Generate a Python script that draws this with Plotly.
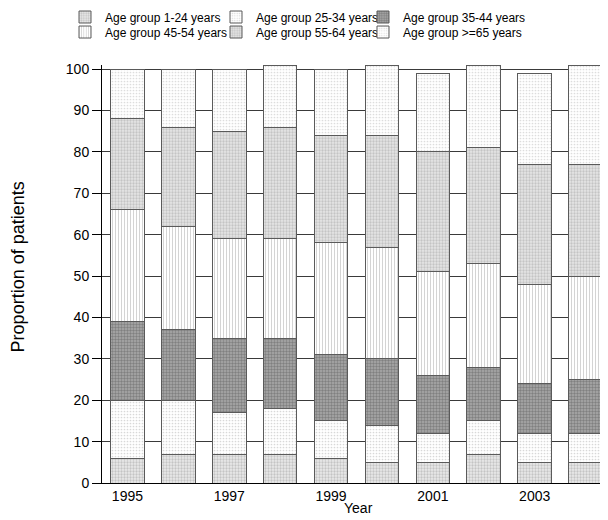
import plotly.graph_objects as go

years = [1995, 1996, 1997, 1998, 1999, 2000, 2001, 2002, 2003, 2004]
groups = ["Age group 1-24 years", "Age group 25-34 years", "Age group 35-44 years",
          "Age group 45-54 years", "Age group 55-64 years", "Age group >=65 years"]
g_1_24 = [6, 7, 7, 7, 6, 5, 5, 7, 5, 5]
g_25_34 = [14, 13, 10, 11, 9, 9, 7, 8, 7, 7]
g_35_44 = [19, 17, 18, 17, 16, 16, 14, 13, 12, 13]
g_45_54 = [27, 25, 24, 24, 27, 27, 25, 25, 24, 25]
g_55_64 = [22, 24, 26, 27, 26, 27, 29, 28, 29, 27]
g_65 = [12, 14, 15, 15, 16, 17, 19, 20, 22, 24]
series = [g_1_24, g_25_34, g_35_44, g_45_54, g_55_64, g_65]
x_ticks = [1995, 1997, 1999, 2001, 2003]
y_ticks = [0, 10, 20, 30, 40, 50, 60, 70, 80, 90, 100]

styles = [
    dict(bgcolor="#eaeaea", fgcolor="#c4c4c4", shape=".", size=3, solidity=0.45),
    dict(bgcolor="#ffffff", fgcolor="#d8d8d8", shape=".", size=3, solidity=0.25),
    dict(bgcolor="#ababab", fgcolor="#808080", shape=".", size=3, solidity=0.5),
    dict(bgcolor="#ffffff", fgcolor="#cfcfcf", shape="|", size=3, solidity=0.3),
    dict(bgcolor="#e6e6e6", fgcolor="#c4c4c4", shape=".", size=3, solidity=0.45),
    dict(bgcolor="#ffffff", fgcolor="#dddddd", shape=".", size=3, solidity=0.25),
]

FONT = "Liberation Sans, Arial, sans-serif"

# legend grid: 3 columns x 2 rows (paper coords relative to plot area)
leg_x = [-0.0731, 0.2253, 0.5158, -0.0731, 0.2253, 0.5158]
leg_y = [1.1148, 1.1148, 1.1148, 1.0789, 1.0789, 1.0789]
leg_ids = ["legend", "legend2", "legend3", "legend4", "legend5", "legend6"]

fig = go.Figure()
for name, vals, st, lg in zip(groups, series, styles, leg_ids):
    fig.add_trace(go.Bar(
        x=years, y=vals, name=name, width=0.66, legend=lg,
        marker=dict(color=st["bgcolor"], line=dict(color="#5a5a5a", width=1),
                    pattern=dict(shape=st["shape"], fgcolor=st["fgcolor"], bgcolor=st["bgcolor"],
                                 size=st["size"], solidity=st["solidity"], fillmode="replace")),
    ))

legend_common = dict(orientation="h", xanchor="left", yanchor="middle", itemwidth=30,
                     font=dict(family=FONT, size=12, color="black"),
                     bgcolor="rgba(0,0,0,0)", borderwidth=0)
legends = {lg: dict(x=lx, y=ly, **legend_common) for lg, lx, ly in zip(leg_ids, leg_x, leg_y)}

# The page body adds an 8px offset; the figure is sized so it fits the 608x520 window.
fig.update_layout(
    barmode="stack",
    width=600, height=512,
    margin=dict(l=94, r=0, t=57, b=37, autoexpand=False),
    plot_bgcolor="white", paper_bgcolor="white",
    font=dict(family=FONT, size=14, color="black"),
    showlegend=True,
    xaxis=dict(range=[1994.5, 2004.44], tickvals=x_ticks, ticks="", showgrid=False,
               showline=True, linecolor="black", linewidth=1, zeroline=False,
               tickfont=dict(family=FONT, size=14)),
    yaxis=dict(range=[0, 101], tickvals=y_ticks, ticks="outside", ticklen=9, tickcolor="black",
               showgrid=True, gridcolor="#3a3a3a", gridwidth=1, showline=True, linecolor="black",
               linewidth=1, zeroline=False, tickfont=dict(family=FONT, size=14)),
    annotations=[
        dict(text="Proportion of patients", xref="paper", yref="paper", x=-0.167, y=0.517,
             textangle=-90, showarrow=False, xanchor="center", yanchor="middle",
             font=dict(family=FONT, size=18)),
        dict(text="Year", xref="paper", yref="paper", x=0.506, y=-0.06,
             showarrow=False, xanchor="center", yanchor="middle",
             font=dict(family=FONT, size=14)),
    ],
    **legends,
)

fig.write_html("out.html")
